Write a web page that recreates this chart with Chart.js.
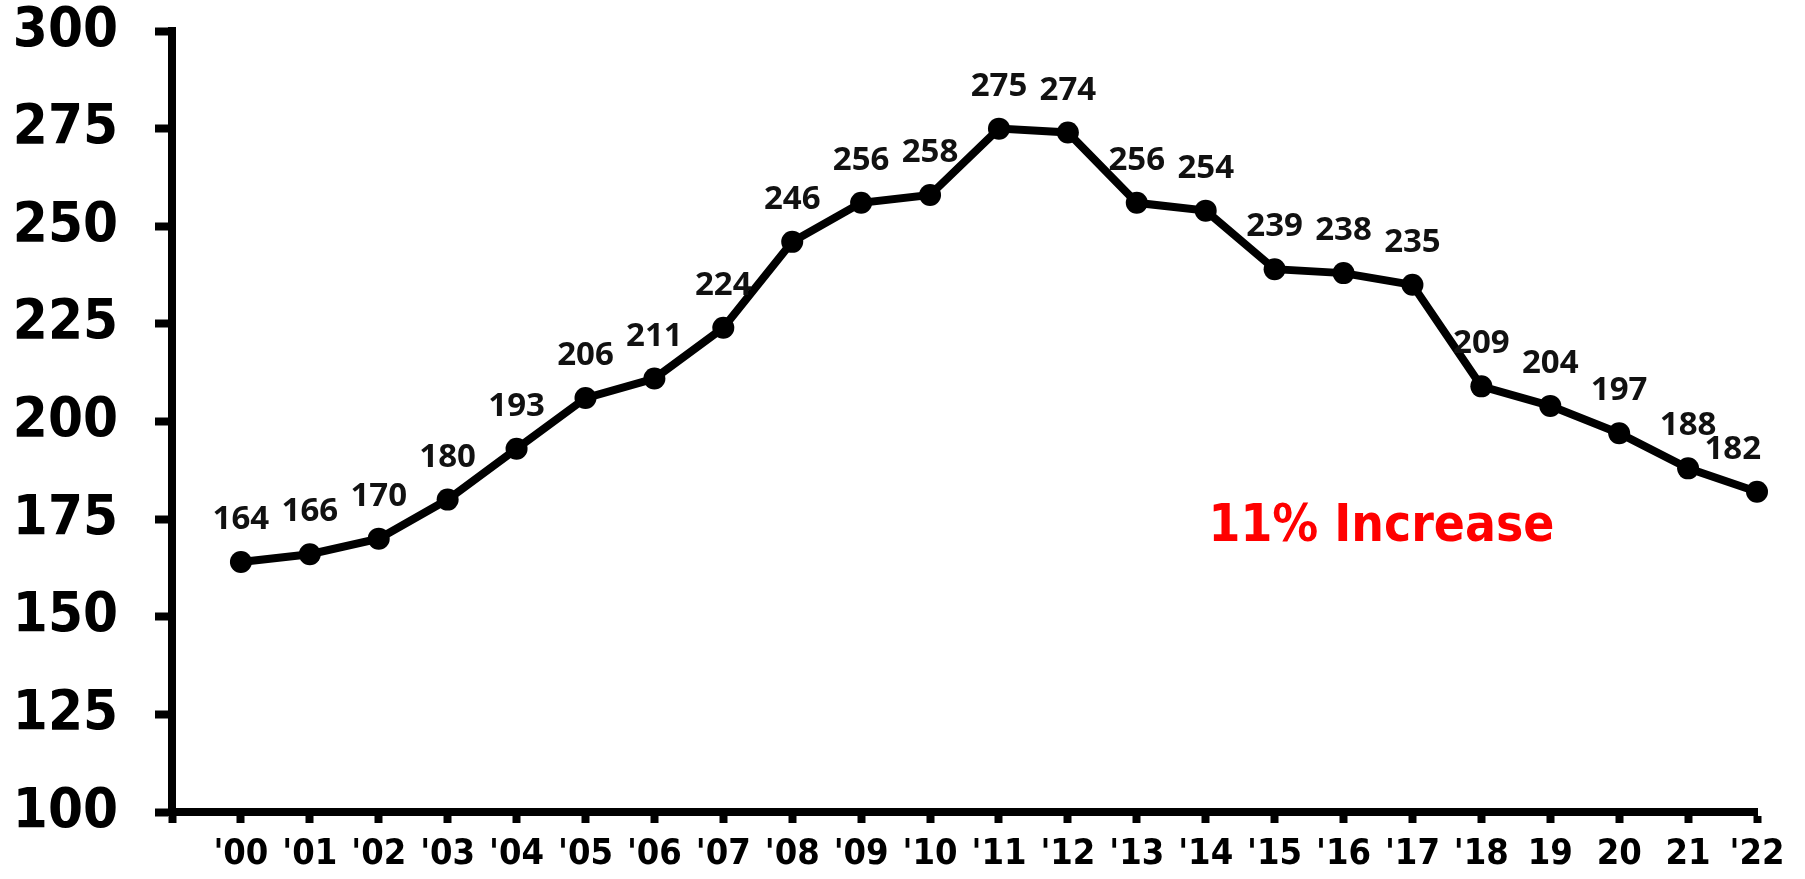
<!DOCTYPE html>
<html>
<head>
<meta charset="utf-8">
<script src="https://cdn.jsdelivr.net/npm/chart.js@4.4.1/dist/chart.umd.min.js"></script>
<style>
  html, body { margin: 0; padding: 0; background: #ffffff; }
  #chart { display: block; }
</style>
</head>
<body>
<canvas id="chart" width="1805" height="879"></canvas>
<script>
// Year labels and values
const years = ["'00", "'01", "'02", "'03", "'04", "'05", "'06", "'07", "'08", "'09", "'10",
               "'11", "'12", "'13", "'14", "'15", "'16", "'17", "'18", "19", "20", "21", "'22"];
const values = [164, 166, 170, 180, 193, 206, 211, 224, 246, 256, 258,
                275, 274, 256, 254, 239, 238, 235, 209, 204, 197, 188, 182];
const yTicks = [100, 125, 150, 175, 200, 225, 250, 275, 300];
const noteText = '11% Increase';
const notePos = { x: 16.55, y: 172.8 };

const axisFont = "'DejaVu Sans Condensed', 'DejaVu Sans', sans-serif";

// value labels above each point
const pointLabels = {
    id: 'pointLabels',
    afterDatasetsDraw(chart) {
        const ctx = chart.ctx;
        const meta = chart.getDatasetMeta(0);
        ctx.save();
        ctx.font = "bold 33px 'Open Sans', sans-serif";
        ctx.fillStyle = '#111111';
        ctx.textAlign = 'center';
        ctx.textBaseline = 'alphabetic';
        meta.data.forEach((pt, i) => {
            const txt = String(values[i]);
            const w = ctx.measureText(txt).width;
            let x = pt.x;
            if (x + w / 2 > chart.chartArea.right + 4) x = chart.chartArea.right + 4 - w / 2;
            ctx.fillText(txt, x, pt.y - 33);
        });
        ctx.restore();
    }
};

// red annotation text
const note = {
    id: 'note',
    afterDraw(chart) {
        const ctx = chart.ctx;
        ctx.save();
        ctx.font = 'bold 51px ' + axisFont;
        ctx.fillStyle = '#ff0000';
        ctx.textAlign = 'center';
        ctx.textBaseline = 'middle';
        ctx.fillText(noteText, chart.scales.x.getPixelForValue(notePos.x), chart.scales.y.getPixelForValue(notePos.y));
        ctx.restore();
    }
};

new Chart(document.getElementById('chart'), {
    type: 'line',
    data: {
        datasets: [{
            data: values.map((v, i) => ({ x: i, y: v })),
            borderColor: '#000000',
            backgroundColor: '#000000',
            borderWidth: 8,
            pointRadius: 11,
            pointBorderWidth: 0,
            pointBackgroundColor: '#000000',
            tension: 0,
            clip: false
        }]
    },
    options: {
        responsive: false,
        animation: false,
        devicePixelRatio: 1,
        layout: { padding: { top: 31, right: 48, left: 0, bottom: 0 } },
        plugins: {
            legend: { display: false },
            tooltip: { enabled: false }
        },
        scales: {
            x: {
                type: 'linear',
                min: -1,
                max: years.length - 1,
                afterFit: (s) => { s.height = 67; s.paddingLeft = 0; s.paddingRight = 0; },
                afterBuildTicks: (s) => {
                    s.ticks = [];
                    for (let i = -1; i < years.length; i++) s.ticks.push({ value: i });
                },
                border: { color: '#000000', width: 8 },
                grid: { drawOnChartArea: false, drawTicks: true, tickLength: 11, tickWidth: 8, tickColor: '#000000' },
                ticks: {
                    autoSkip: false,
                    maxRotation: 0,
                    padding: 14,
                    color: '#000000',
                    font: { family: axisFont, size: 36, weight: 'bold', lineHeight: 1 },
                    callback: (v) => (v >= 0 ? years[v] : '')
                }
            },
            y: {
                min: yTicks[0],
                max: yTicks[yTicks.length - 1],
                afterFit: (s) => { s.width = 172; s.paddingTop = 0; s.paddingBottom = 0; },
                afterBuildTicks: (s) => { s.ticks = yTicks.map(v => ({ value: v })); },
                border: { color: '#000000', width: 8 },
                grid: { drawOnChartArea: false, drawTicks: true, tickLength: 17, tickWidth: 8, tickColor: '#000000' },
                ticks: {
                    padding: 37,
                    color: '#000000',
                    font: { family: axisFont, size: 56, weight: 'bold', lineHeight: 1 }
                }
            }
        }
    },
    plugins: [pointLabels, note]
});
</script>
</body>
</html>
